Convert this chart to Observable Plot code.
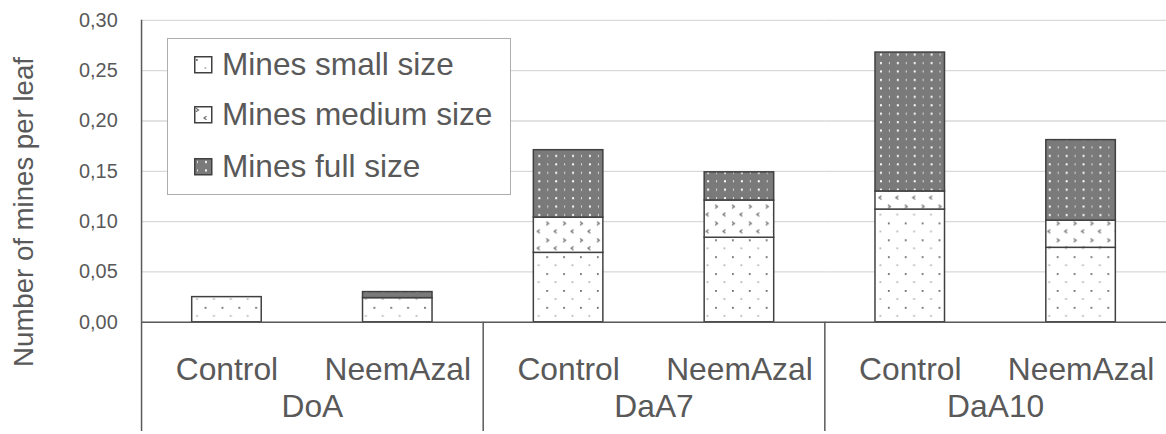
<!DOCTYPE html>
<html><head><meta charset="utf-8">
<script src="https://cdn.jsdelivr.net/npm/d3@7"></script>
<script src="https://cdn.jsdelivr.net/npm/@observablehq/plot@0.6"></script>
<style>
body{margin:0;background:#fff;}
#wrap{position:relative;width:1166px;height:434px;overflow:hidden;font-family:"Liberation Sans",Arial,sans-serif;color:#595959;}
#chart{position:absolute;left:0;top:0;}
#ytitle{position:absolute;left:24px;top:212px;transform:translate(-50%,-50%) rotate(-90deg);white-space:nowrap;font-size:27.6px;}
#legendbox{position:absolute;left:167px;top:38px;width:344px;height:157px;box-sizing:border-box;border:1.6px solid #adadad;background:#fff;}
.lrow{position:absolute;left:194px;height:30px;line-height:30px;font-size:31.6px;white-space:nowrap;}
.lrow svg{position:absolute;left:0;top:7px;}
.lrow span{position:absolute;left:28px;top:0;}
</style></head>
<body>
<svg width="0" height="0" style="position:absolute">
  <defs>
    <pattern id="pSmall" patternUnits="userSpaceOnUse" width="17" height="17">
      <rect width="17" height="17" fill="#fff"/>
      <rect x="2" y="3" width="1.8" height="1.8" fill="#6a6a6a"/>
      <rect x="10.5" y="11.5" width="1.8" height="1.1" fill="#8a8a8a"/>
    </pattern>
    <pattern id="pMedium" patternUnits="userSpaceOnUse" width="17" height="17">
      <rect width="17" height="17" fill="#fff"/>
      <path d="M2,2.3 L4.5,4 L2,5.7" fill="none" stroke="#6e6e6e" stroke-width="1.2"/>
      <path d="M12.5,10.3 L10,12 L12.5,13.7" fill="none" stroke="#6e6e6e" stroke-width="1.2"/>
    </pattern>
    <pattern id="pFull" patternUnits="userSpaceOnUse" width="17" height="8.5">
      <rect width="17" height="8.5" fill="#7a7a7a"/>
      <rect x="11" y="3" width="2" height="2" fill="#fff"/>
      <rect x="3" y="3" width="1" height="2" fill="#e6e6e6"/>
    </pattern>
  </defs>
</svg>
<div id="wrap">
  <div id="chart"></div>
  <div id="ytitle">Number of mines per leaf</div>
  <div id="legendbox"></div>
  <div id="legend"></div>
</div>
<script>
const groups = ["DoA", "DaA7", "DaA10"];
const treatments = ["Control", "NeemAzal"];
const series = ["Mines small size", "Mines medium size", "Mines full size"];
// values per bar, in order DoA-Control, DoA-NeemAzal, DaA7-Control, DaA7-NeemAzal, DaA10-Control, DaA10-NeemAzal
const smallVals  = [0.025, 0.024, 0.069, 0.084, 0.112, 0.074];
const mediumVals = [0.000, 0.000, 0.035, 0.037, 0.018, 0.027];
const fullVals   = [0.000, 0.006, 0.067, 0.028, 0.138, 0.080];
const yTicks = [0, 0.05, 0.10, 0.15, 0.20, 0.25, 0.30];
const fills = ["url(#pSmall)", "url(#pMedium)", "url(#pFull)"];

const seriesVals = [smallVals, mediumVals, fullVals];
const rows = [];
smallVals.forEach((_, i) => {
  series.forEach((s, k) => {
    rows.push({group: groups[Math.floor(i / 2)], treatment: treatments[i % 2], series: s, value: seriesVals[k][i]});
  });
});
const seps = groups.map(g => ({group: g, treatment: treatments[0]}));

const chart = Plot.plot({
  width: 1174, height: 434,
  marginLeft: 142, marginRight: 0, marginTop: 20, marginBottom: 110,
  style: {fontFamily: "'Liberation Sans', Arial, sans-serif", color: "#595959", background: "transparent", overflow: "visible"},
  fx: {domain: groups, padding: 0, label: null},
  x: {domain: treatments, paddingInner: 0.593, paddingOuter: 0.2965, label: null},
  y: {domain: [0, 0.30], label: null},
  color: {domain: series, range: fills},
  marks: [
    Plot.gridY({ticks: yTicks, stroke: "#d9d9d9", strokeOpacity: 1, strokeWidth: 1.3}),
    Plot.barY(rows, {fx: "group", x: "treatment", y: "value", fill: "series", stroke: "#404040", strokeWidth: 1.5}),
    Plot.ruleY([0], {stroke: "#595959", strokeWidth: 1.5}),
    Plot.ruleX(seps, {fx: "group", x: "treatment", dx: -86, stroke: "#595959", strokeWidth: 1.5, insetTop: 304, insetBottom: -110}),
    Plot.ruleX(seps.slice(0, 1), {fx: "group", x: "treatment", dx: -86, stroke: "#595959", strokeWidth: 1.5}),
    Plot.axisY({ticks: yTicks, tickSize: 0, tickPadding: 24, fontSize: 20, label: null, tickFormat: d => d.toFixed(2).replace(".", ",")}),
    Plot.axisX({tickSize: 0, tickPadding: 35, fontSize: 32, label: null}),
    Plot.axisFx({anchor: "bottom", tickSize: 0, tickPadding: 73, fontSize: 32, label: null})
  ]
});
document.getElementById("chart").appendChild(chart);

const legend = document.getElementById("legend");
const tops = [49, 99, 151];
series.forEach((s, k) => {
  const row = document.createElement("div");
  row.className = "lrow";
  row.style.top = tops[k] + "px";
  row.innerHTML = `<svg width="19" height="18"><rect x="0.75" y="0.75" width="17" height="16" fill="${fills[k]}" stroke="#404040" stroke-width="1.5"/></svg><span>${s}</span>`;
  legend.appendChild(row);
});
</script>
</body></html>
